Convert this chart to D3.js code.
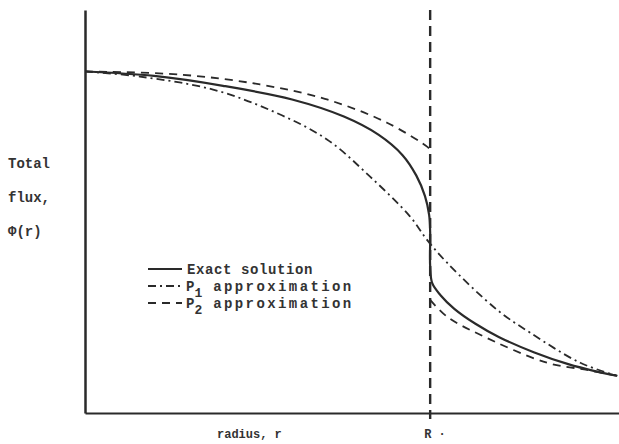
<html><head><meta charset="utf-8">
<style>
  body { margin: 0; background: #fff; }
  svg text { font-family: "Liberation Mono", "DejaVu Sans Mono", monospace; fill: #333; }
</style>
</head>
<body>
<svg id="chart"></svg>
<script src="https://d3js.org/d3.v7.min.js"></script>
<script>
// radius in units of R, flux normalised to the centre value
let exactR   = [0, 0.2, 0.4, 0.6, 0.75, 0.85, 0.92, 0.96, 0.985, 0.997, 1.0, 1.0, 1.006, 1.03, 1.07, 1.13, 1.2, 1.3, 1.4, 1.48, 1.542];
let exactPhi = [1.0, 0.987, 0.958, 0.918, 0.868, 0.815, 0.755, 0.695, 0.635, 0.58, 0.53, 0.43, 0.38, 0.345, 0.305, 0.262, 0.222, 0.178, 0.143, 0.122, 0.109];

let p1R   = [0, 0.159, 0.371, 0.545, 0.701, 0.826, 0.942, 0.991, 1.049, 1.194, 1.290, 1.435, 1.542];
let p1Phi = [1.0, 0.985, 0.947, 0.883, 0.801, 0.692, 0.575, 0.507, 0.440, 0.302, 0.235, 0.147, 0.109];

// P2 is discontinuous at r = R
let p2InR    = [0, 0.275, 0.507, 0.701, 0.875, 0.991, 1.0];
let p2InPhi  = [1.0, 0.991, 0.962, 0.918, 0.850, 0.780, 0.771];
let p2OutR   = [1.0, 1.049, 1.145, 1.339, 1.455, 1.542];
let p2OutPhi = [0.331, 0.282, 0.229, 0.147, 0.126, 0.109];

let boundaryR = 1.0;

let legendLabels = ["Exact solution", "approximation", "approximation"];
let legendSubs = [null, "1", "2"];

let width = 619, height = 444;
let svg = d3.select("#chart").attr("width", width).attr("height", height);

let x = d3.scaleLinear().domain([0, 1.55]).range([85, 620]);
let y = d3.scaleLinear().domain([0, 1.18]).range([413, 10]);

let zip = (a, b) => a.map((v, i) => [v, b[i]]);
let line = d3.line()
    .x(d => x(d[0]))
    .y(d => y(d[1]))
    .curve(d3.curveCatmullRom.alpha(0.5));

let ink = "#2a2a2a";

// axes, no ticks
svg.append("g")
    .attr("transform", `translate(${x(0)},0)`)
    .call(d3.axisLeft(y).ticks(0).tickSizeOuter(0))
    .select(".domain").attr("stroke", ink).attr("stroke-width", 2.5);
svg.append("g")
    .attr("transform", `translate(0,${y(0)})`)
    .call(d3.axisBottom(x).ticks(0).tickSizeOuter(0))
    .select(".domain").attr("stroke", ink).attr("stroke-width", 2.2);

// boundary r = R
svg.append("line")
    .attr("x1", x(boundaryR)).attr("x2", x(boundaryR))
    .attr("y1", y(1.18)).attr("y2", y(0) + 6)
    .attr("stroke", ink).attr("stroke-width", 2.4)
    .attr("stroke-dasharray", "10,6");

let styles = {
    exact: {dash: null, w: 2.2},
    p1: {dash: "8,4,2,4", w: 1.8},
    p2: {dash: "8,6", w: 1.8}
};

svg.append("path").datum(zip(p1R, p1Phi))
    .attr("d", line).attr("fill", "none").attr("stroke", ink)
    .attr("stroke-width", styles.p1.w).attr("stroke-dasharray", styles.p1.dash);
svg.append("path").datum(zip(p2InR, p2InPhi))
    .attr("d", line).attr("fill", "none").attr("stroke", ink)
    .attr("stroke-width", styles.p2.w).attr("stroke-dasharray", styles.p2.dash);
svg.append("path").datum(zip(p2OutR, p2OutPhi))
    .attr("d", line).attr("fill", "none").attr("stroke", ink)
    .attr("stroke-width", styles.p2.w).attr("stroke-dasharray", styles.p2.dash);
svg.append("path").datum(zip(exactR, exactPhi))
    .attr("d", line).attr("fill", "none").attr("stroke", ink)
    .attr("stroke-width", styles.exact.w);

// legend
let legendKeys = ["exact", "p1", "p2"];
let leg = svg.append("g").attr("transform", "translate(148,269)");
legendKeys.forEach((k, i) => {
    let row = leg.append("g").attr("transform", `translate(0,${i * 17})`);
    row.append("line").attr("x1", 0).attr("x2", 34).attr("y1", 0).attr("y2", 0)
        .attr("stroke", ink).attr("stroke-width", styles[k].w)
        .attr("stroke-dasharray", styles[k].dash);
    let t = row.append("text").attr("x", 38).attr("y", 5)
        .style("font-size", "14px").style("font-weight", "bold");
    if (legendSubs[i]) {
        t.append("tspan").text("P");
        t.append("tspan").attr("dy", 6).style("font-size", "13px").text(legendSubs[i]);
        t.append("tspan").attr("dy", -6).attr("dx", 11).style("letter-spacing", "2.4px").text(legendLabels[i]);
    } else {
        t.append("tspan").attr("dx", 1).style("letter-spacing", "0.6px").text(legendLabels[i]);
    }
});

// axis titles
let yTitle = ["Total", "flux,", "\u03a6(r)"];
yTitle.forEach((s, i) => {
    svg.append("text").attr("x", 8).attr("y", 168 + i * 34)
        .style("font-size", "14px").style("font-weight", "bold").text(s);
});
svg.append("text").attr("x", 217).attr("y", 438)
    .style("font-size", "12px").style("font-weight", "bold").text("radius, r");
svg.append("text").attr("x", x(boundaryR) - 6).attr("y", 438)
    .style("font-size", "12px").style("font-weight", "bold").text("R \u00b7");
</script>
</body>
</html>
